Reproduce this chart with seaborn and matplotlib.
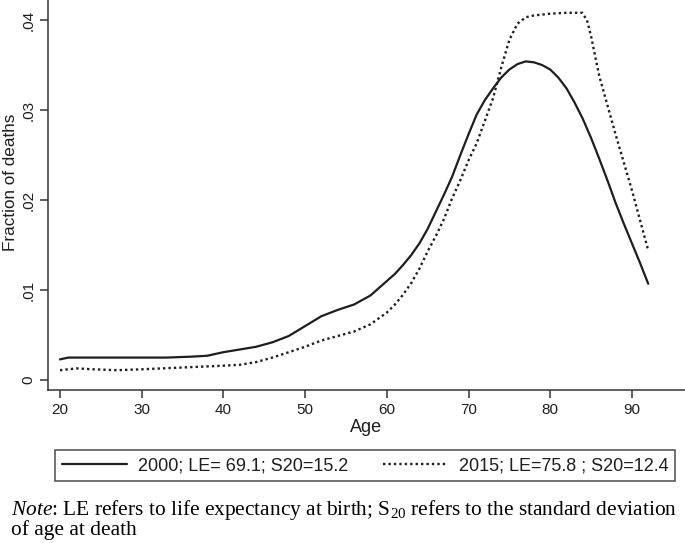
import numpy as np
import pandas as pd
import matplotlib
matplotlib.use("Agg")
import matplotlib.pyplot as plt
import seaborn as sns

# values
age_2000 = [20, 21, 22, 25, 28, 30, 33, 36, 38, 40, 42, 44, 46, 48, 50, 52, 54, 56, 58,
            60, 61, 62, 63, 64, 65, 66, 67, 68, 69, 70, 71, 72, 73, 74, 75, 76, 77,
            78, 79, 80, 81, 82, 83, 84, 85, 86, 87, 88, 89, 90, 91, 92]
frac_2000 = [0.0023, 0.0025, 0.0025, 0.0025, 0.0025, 0.0025, 0.0025, 0.0026, 0.0027, 0.0031,
             0.0034, 0.0037, 0.0042, 0.0049, 0.0060, 0.0071, 0.0078, 0.0084, 0.0094,
             0.0110, 0.0118, 0.0128, 0.0139, 0.0152, 0.0168, 0.0187, 0.0206, 0.0226, 0.0250,
             0.0273, 0.0295, 0.0311, 0.0324, 0.0336, 0.0345, 0.0351, 0.0354,
             0.0353, 0.0350, 0.0345, 0.0336, 0.0324, 0.0308, 0.0290, 0.0269, 0.0246, 0.0222,
             0.0197, 0.0174, 0.0152, 0.0130, 0.0107]

age_2015 = [20, 22, 24, 27, 30, 35, 40, 42, 44, 46, 48, 50, 52, 54, 56, 58,
            60, 61, 62, 63, 64, 65, 66, 67, 68, 69, 70, 71, 72, 73, 74, 75, 76, 77,
            78, 80, 82, 83.9, 84.5, 85, 86, 88, 90, 92]
frac_2015 = [0.0011, 0.0013, 0.0012, 0.0011, 0.0012, 0.0014, 0.0016, 0.0017, 0.0020, 0.0025,
             0.0031, 0.0037, 0.0044, 0.0049, 0.0054, 0.0062,
             0.0075, 0.0084, 0.0095, 0.0108, 0.0124, 0.0143, 0.0160, 0.0179, 0.0202, 0.0222,
             0.0244, 0.0263, 0.0288, 0.0313, 0.0347, 0.0378, 0.0396, 0.0403,
             0.0405, 0.0407, 0.0408, 0.0408, 0.0400, 0.0382, 0.0338, 0.0273, 0.0211, 0.0144]

label_2000 = "2000; LE= 69.1; S20=15.2"
label_2015 = "2015; LE=75.8 ; S20=12.4"
x_ticks = [20, 30, 40, 50, 60, 70, 80, 90]
y_ticks = [0, 0.01, 0.02, 0.03, 0.04]
y_ticklabels = ["0", ".01", ".02", ".03", ".04"]

sns.set_theme(style="ticks")
plt.rcParams["font.family"] = ["Liberation Sans", "DejaVu Sans"]
plt.rcParams["mathtext.fontset"] = "custom"
plt.rcParams["mathtext.rm"] = "Liberation Serif"
plt.rcParams["mathtext.it"] = "Liberation Serif:italic"

ink = "#1e1e1e"
fig = plt.figure(figsize=(6.85, 5.43), dpi=100)
ax = fig.add_axes([48 / 685, 1 - 390 / 543, 1 - 48 / 685, 390 / 543])

sns.lineplot(x=age_2000, y=frac_2000, ax=ax, color=ink, lw=1.6,
             label=label_2000, sort=False)
sns.lineplot(x=age_2015, y=frac_2015, ax=ax, color=ink, lw=1.7,
             linestyle=(0, (1, 1.3)), label=label_2015, sort=False)

ax.set_xlim(18.53, 96.5)
ax.set_ylim(-0.0011, 0.04222)
ax.set_xticks(x_ticks)
ax.set_yticks(y_ticks)
ax.set_yticklabels(y_ticklabels, rotation=90, va="center")
ax.tick_params(axis="both", length=6, width=1.1, color="#333333",
               labelsize=11, labelcolor=ink, pad=3)
ax.set_xlabel("Age", fontsize=13, color=ink, labelpad=2)
ax.set_ylabel("Fraction of deaths", fontsize=12.3, color=ink)
ax.yaxis.set_label_coords(-30 / 637, 1 - 182 / 390)
sns.despine(ax=ax)
for side in ["left", "bottom"]:
    ax.spines[side].set_color("#333333")
    ax.spines[side].set_linewidth(1.1)
ax.set_facecolor("white")

ax.get_legend().remove()
handles, labels = ax.get_legend_handles_labels()
leg = fig.legend(handles, labels, ncol=2, loc="lower left", mode="expand",
                 bbox_to_anchor=(55 / 685, 1 - 481 / 543, 620 / 685, 34 / 543),
                 bbox_transform=fig.transFigure, borderaxespad=0,
                 fontsize=13, handlelength=3.6, handletextpad=0.6,
                 fancybox=False, frameon=True, borderpad=0.38)
leg.get_frame().set_edgecolor(ink)
leg.get_frame().set_linewidth(1.1)
for t in leg.get_texts():
    t.set_color(ink)

fig.text(11 / 685, 1 - 515 / 543,
         r"$\mathit{Note}$: LE refers to life expectancy at birth; S$_{20}$ refers to the standard deviation",
         family="Liberation Serif", fontsize=15.4, color="black", va="baseline")
fig.text(11 / 685, 1 - 535 / 543, "of age at death",
         family="Liberation Serif", fontsize=15.4, color="black", va="baseline")

fig.savefig("out.png", dpi=100)
